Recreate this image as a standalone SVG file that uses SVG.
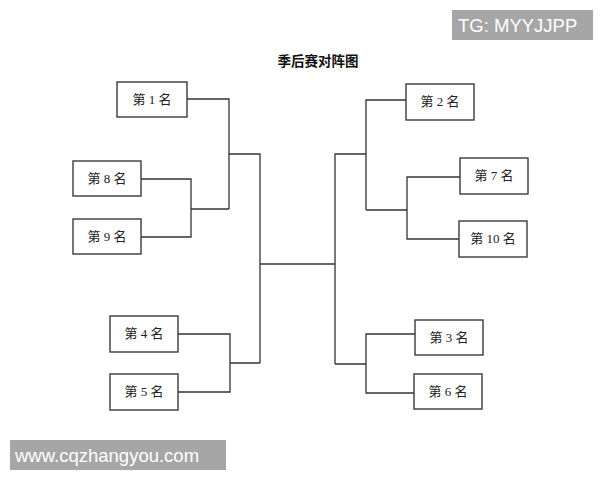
<svg xmlns="http://www.w3.org/2000/svg" width="600" height="480" viewBox="0 0 600 480">
<style>
.box{fill:#fff;stroke:#3a3a3a;stroke-width:1.4}
.lbl{font-family:"Liberation Serif","Noto Sans CJK SC",serif;font-size:13px;fill:#222;text-anchor:middle}
.ln{fill:none;stroke:#333;stroke-width:1.3}
.wm{fill:#a6a6a6}
.wmt{font-family:"Liberation Sans",Arial,sans-serif;font-size:18.5px;fill:#fff}
</style>
<rect width="600" height="480" fill="#fff"/>
<text x="318" y="66" font-family="'Noto Sans CJK SC',sans-serif" font-size="13.5" font-weight="bold" fill="#111" text-anchor="middle">季后赛对阵图</text>
<g id="connectors">
<path class="ln" d="M187,99 H229 V209 M141,179 H191 V237 H141 M191,209 H229 M229,154 H260 V363 M178,334 H230 V392 H178 M230,363 H260 M260,264 H335"/>
<path class="ln" d="M406,100 H366 V210 M460,177 H407 V239 H459 M407,210 H366 M366,154 H335 V364 M415,334 H366 V393 H414 M366,364 H335"/>
</g>
<g id="n1"><rect class="box" x="117" y="82" width="70" height="35"/><text class="lbl" x="152" y="104">第 1 名</text></g>
<g id="n8"><rect class="box" x="73" y="161" width="68" height="35"/><text class="lbl" x="107" y="183">第 8 名</text></g>
<g id="n9"><rect class="box" x="73" y="219" width="68" height="35"/><text class="lbl" x="107" y="241">第 9 名</text></g>
<g id="n4"><rect class="box" x="110" y="316" width="68" height="36"/><text class="lbl" x="144" y="338">第 4 名</text></g>
<g id="n5"><rect class="box" x="110" y="374" width="68" height="36"/><text class="lbl" x="144" y="396">第 5 名</text></g>
<g id="n2"><rect class="box" x="406" y="84" width="68" height="36"/><text class="lbl" x="440" y="106">第 2 名</text></g>
<g id="n7"><rect class="box" x="460" y="158" width="68" height="36"/><text class="lbl" x="494" y="180">第 7 名</text></g>
<g id="n10"><rect class="box" x="459" y="221" width="68" height="36"/><text class="lbl" x="493" y="243">第 10 名</text></g>
<g id="n3"><rect class="box" x="415" y="320" width="68" height="35"/><text class="lbl" x="449" y="342">第 3 名</text></g>
<g id="n6"><rect class="box" x="414" y="374" width="68" height="35"/><text class="lbl" x="448" y="396">第 6 名</text></g>
<g id="wm1"><rect class="wm" x="452" y="10" width="141" height="30"/><text class="wmt" x="458" y="32">TG: MYYJJPP</text></g>
<g id="wm2"><rect class="wm" x="10" y="440" width="216" height="30"/><text class="wmt" x="15" y="462">www.cqzhangyou.com</text></g>
</svg>
